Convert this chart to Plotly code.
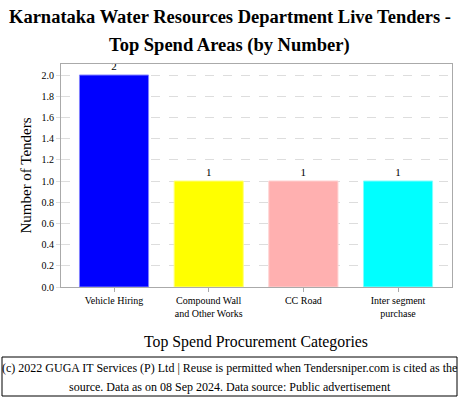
import plotly.graph_objects as go

categories = ["Vehicle Hiring", "Compound Wall<br>and Other Works", "CC Road", "Inter segment<br>purchase"]
values = [2, 1, 1, 1]
colors = ["#0000ff", "#ffff00", "#ffb0b0", "#00ffff"]
edge_colors = ["#8080ff", "#ffff80", "#ffd0d0", "#80ffff"]
y_ticks = [0.0, 0.2, 0.4, 0.6, 0.8, 1.0, 1.2, 1.4, 1.6, 1.8, 2.0]

FONT = "Liberation Serif"

fig = go.Figure()
fig.add_trace(go.Bar(
    x=list(range(len(categories))),
    y=values,
    marker=dict(color=colors, line=dict(color=edge_colors, width=1)),
    text=[str(v) for v in values],
    textposition="outside",
    textfont=dict(family=FONT, size=11, color="black"),
    cliponaxis=False,
    width=0.73,
))

def ann(text, x, y, size, bold=False, angle=0):
    return dict(text=f"<b>{text}</b>" if bold else text,
                xref="paper", yref="paper", x=x, y=y, showarrow=False,
                xanchor="center", yanchor="middle", textangle=angle,
                font=dict(family=FONT, size=size, color="black"))

fig.update_layout(
    width=460, height=400,
    margin=dict(l=61, r=8, t=64, b=113),
    paper_bgcolor="white", plot_bgcolor="white",
    showlegend=False,
    font=dict(family=FONT, color="black"),
    xaxis=dict(
        tickmode="array",
        tickvals=list(range(len(categories))),
        ticktext=categories,
        range=[-0.56, 3.57],
        showgrid=False,
        showline=True, linecolor="#aaaaaa", linewidth=1, mirror=True,
        ticks="outside", ticklen=4, tickcolor="#aaaaaa",
        tickfont=dict(family=FONT, size=10, color="black"),
        zeroline=False,
    ),
    yaxis=dict(
        range=[0, 2.104],
        tickmode="array",
        tickvals=y_ticks,
        ticktext=[f"{v:.1f}" for v in y_ticks],
        showgrid=True, gridcolor="#dddddd", griddash="dash", gridwidth=1,
        showline=True, linecolor="#aaaaaa", linewidth=1, mirror=True,
        ticks="outside", ticklen=4, tickcolor="#dddddd",
        tickfont=dict(family=FONT, size=10, color="black"),
        zeroline=False,
    ),
    annotations=[
        ann("Karnataka Water Resources Department Live Tenders -", 0.432, 1.2108, 18.5, bold=True),
        ann("Top Spend Areas (by Number)", 0.432, 1.085, 18.5, bold=True),
        ann("Number of Tenders", -0.092, 0.5, 15, angle=-90),
        ann("Top Spend Procurement Categories", 0.4987, -0.2466, 15.8),
        ann("(c) 2022 GUGA IT Services (P) Ltd | Reuse is permitted when Tendersniper.com is cited as the", 0.431, -0.3632, 12),
        ann("source. Data as on 08 Sep 2024. Data source: Public advertisement", 0.431, -0.4484, 12),
    ],
    shapes=[
        dict(type="rect", xref="paper", yref="paper",
             x0=(2 - 61) / 391, x1=(457 - 61) / 391,
             y0=(287 - 396) / 223, y1=(287 - 357) / 223,
             line=dict(color="black", width=1), fillcolor="rgba(0,0,0,0)"),
    ],
)

fig.write_html("out.html", config={"displayModeBar": False},
               post_script="document.body.style.margin='0px';document.body.style.padding='0px';")
